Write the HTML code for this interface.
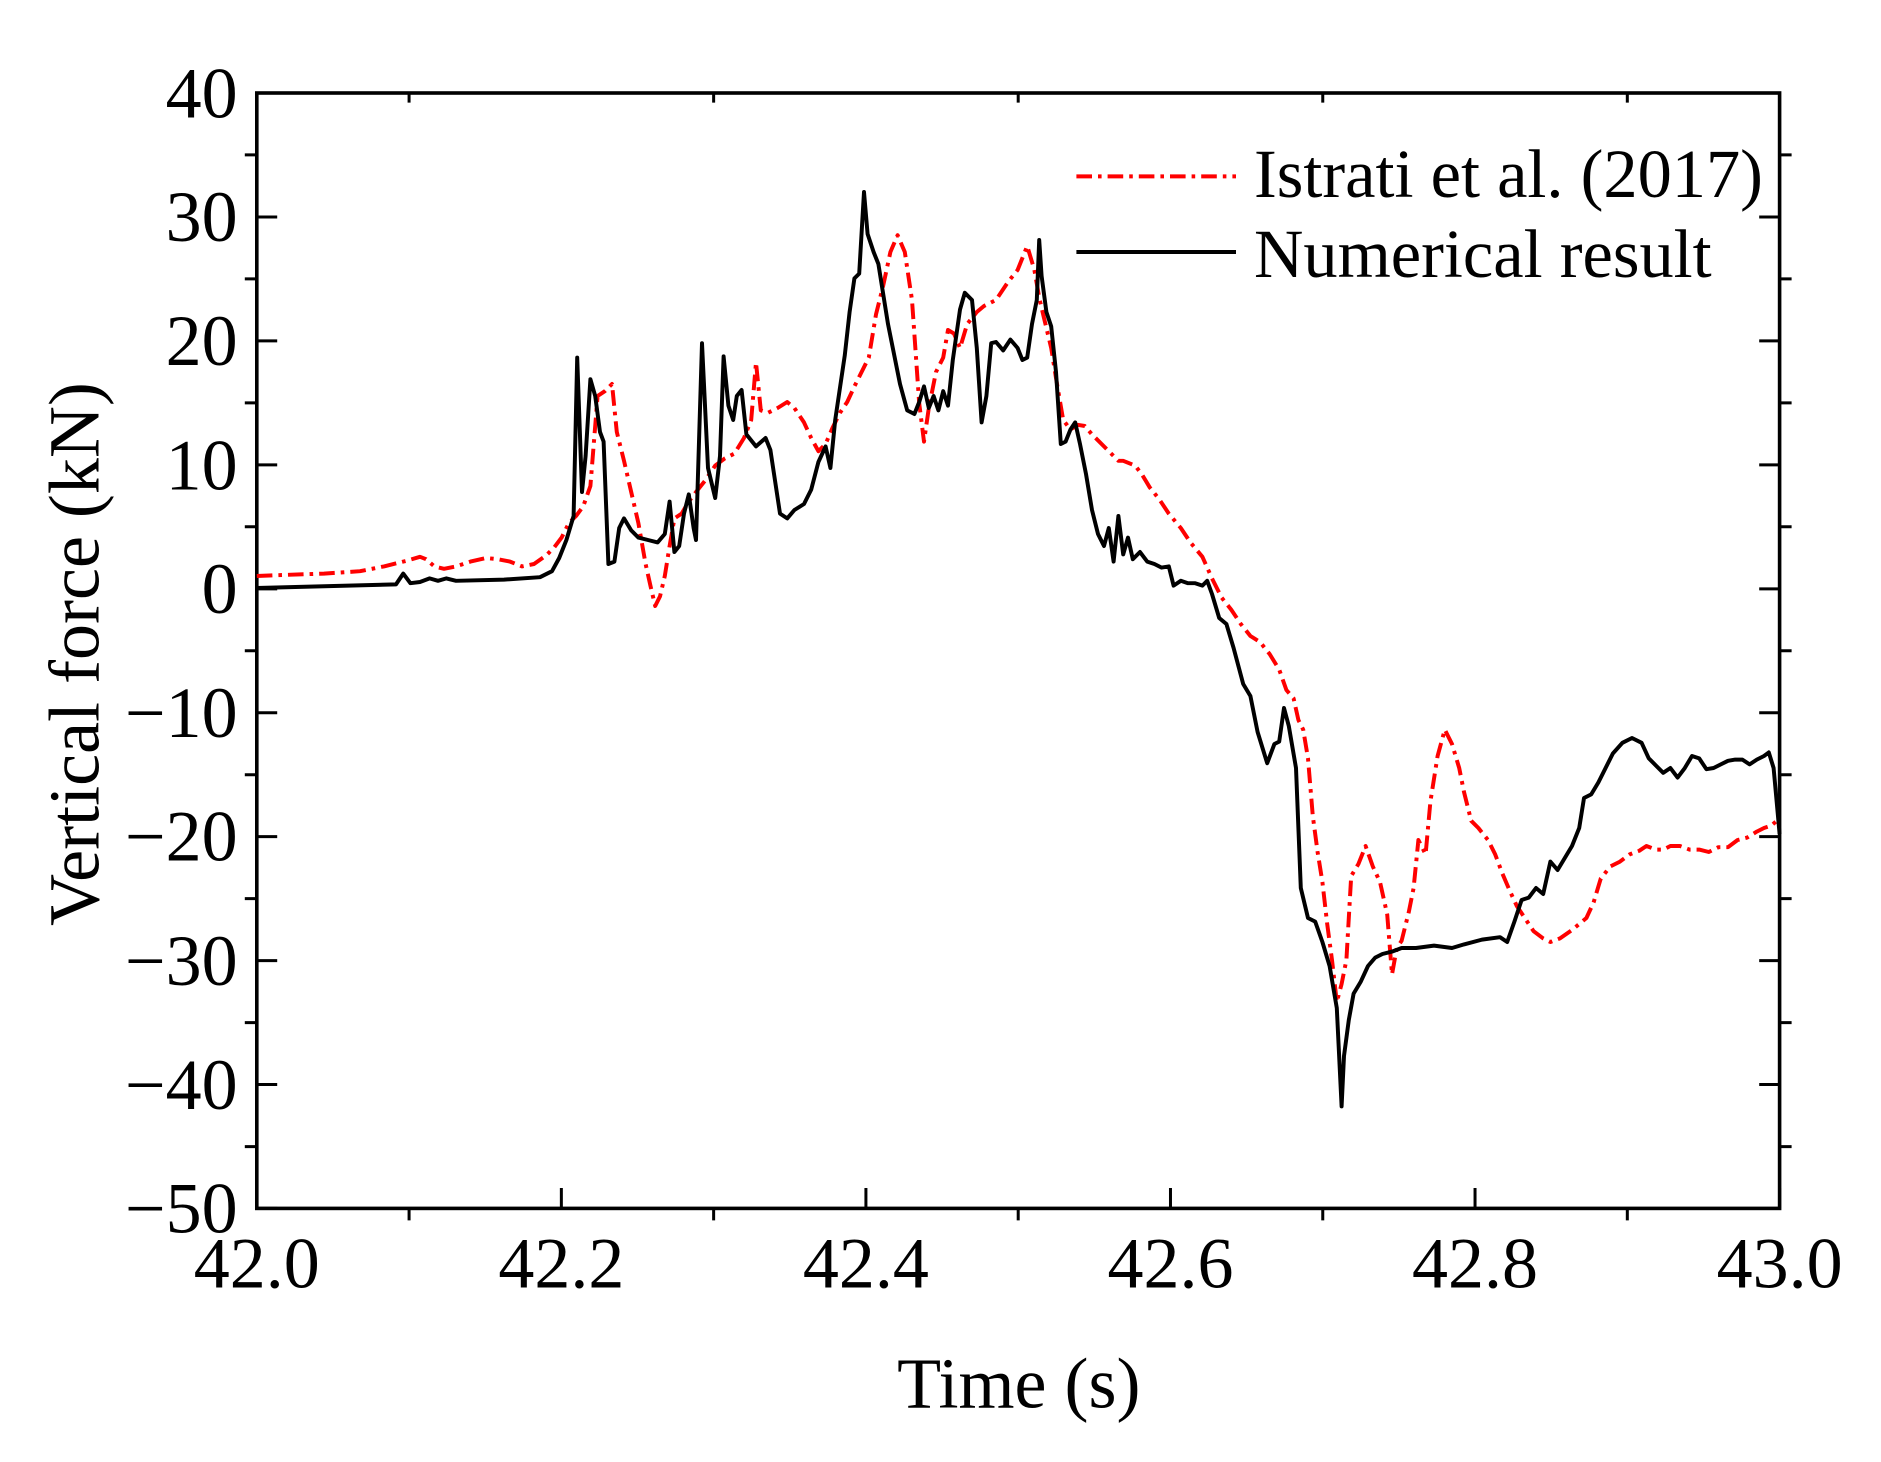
<!DOCTYPE html>
<html><head><style>html,body{margin:0;padding:0;background:#fff}svg{display:block}</style></head>
<body>
<svg width="1881" height="1462" viewBox="0 0 1567.5 1218.33" xmlns="http://www.w3.org/2000/svg" font-family="Liberation Serif, serif">
<rect width="1567.5" height="1218.33" fill="#fff"/>
<g stroke="#000" stroke-width="2.5" fill="none">
<rect x="214" y="77.5" width="1269" height="929.5" stroke-width="3"/>
<path d="M214 1007v-17M467.8 1007v-17M721.6 1007v-17M975.4 1007v-17M1229.2 1007v-17M1483 1007v-17
M340.9 1007v10M594.7 1007v10M848.5 1007v10M1102.3 1007v10M1356.1 1007v10
M340.9 77.5v8M594.7 77.5v8M848.5 77.5v8M1102.3 77.5v8M1356.1 77.5v8"/>
<path d="M214 77.5h17M214 180.8h17M214 284.1h17M214 387.4h17M214 490.7h17M214 594h17M214 697.2h17M214 800.5h17M214 903.8h17M214 1007h17
M1483 180.8h-17M1483 284.1h-17M1483 387.4h-17M1483 490.7h-17M1483 594h-17M1483 697.2h-17M1483 800.5h-17M1483 903.8h-17
M214 129.1h-10M214 232.4h-10M214 335.7h-10M214 439h-10M214 542.3h-10M214 645.6h-10M214 748.9h-10M214 852.2h-10M214 955.5h-10
M1483 129.1h10M1483 232.4h10M1483 335.7h10M1483 439h10M1483 542.3h10M1483 645.6h10M1483 748.9h10M1483 852.2h10M1483 955.5h10"/>
</g>
<g font-size="60" text-anchor="end" fill="#000">
<text x="198" y="98">40</text><text x="198" y="201">30</text><text x="198" y="304">20</text><text x="198" y="408">10</text><text x="198" y="511">0</text>
<text x="198" y="614">−10</text><text x="198" y="717">−20</text><text x="198" y="821">−30</text><text x="198" y="924">−40</text><text x="198" y="1027">−50</text>
</g>
<g font-size="60" text-anchor="middle" fill="#000">
<text x="214" y="1073">42.0</text><text x="467.8" y="1073">42.2</text><text x="721.6" y="1073">42.4</text><text x="975.4" y="1073">42.6</text><text x="1229.2" y="1073">42.8</text><text x="1483" y="1073">43.0</text>
<text x="849" y="1173" font-size="60">Time (s)</text>
<text transform="translate(82,545) rotate(-90)" font-size="60">Vertical force (kN)</text>
</g>
<polyline fill="none" stroke="#f00" stroke-width="3.3" stroke-dasharray="13 5 3 5" stroke-linejoin="round" points="214,480 240,479 270,478 300,476 320,472 340,467 350,464 355,466 362,472 370,474 380,472 392,468 405,465 415,466 425,468 435,472 445,470 455,463 462,456 468,448 474,436 480,430 486,422 492,405 498,330 504,326 510,320 514,360 520,384 526,410 532,436 538,470 542,488 546,505 550,497 554,480 558,455 562,432 568,428 574,418 580,410 588,400 596,388 604,382 612,378 620,365 626,350 630,302 634,342 640,344 648,340 656,335 662,340 670,352 676,365 682,376 688,370 694,356 700,344 706,335 712,322 718,310 724,298 730,262 736,238 742,210 748,196 754,210 760,250 766,336 770,368 774,340 780,310 786,298 790,275 795,278 800,290 806,270 814,260 820,255 830,250 840,235 848,225 856,205 862,225 866,248 870,265 876,290 880,315 886,350 892,358 898,354 904,355 910,362 918,370 926,378 932,384 936,384 946,388 952,396 958,406 966,416 974,428 984,440 992,452 1002,464 1010,482 1018,498 1026,508 1034,520 1042,530 1050,535 1058,545 1066,558 1072,575 1078,582 1082,600 1086,608 1090,632 1094,680 1098,710 1102,735 1106,770 1110,800 1114,835 1118,820 1122,800 1126,730 1132,720 1138,705 1144,722 1150,735 1156,762 1160,812 1164,790 1168,784 1174,760 1178,740 1182,700 1188,712 1192,668 1198,630 1204,608 1210,620 1216,640 1220,660 1226,684 1232,690 1240,700 1246,712 1252,728 1258,742 1264,755 1270,764 1278,776 1286,782 1292,785 1300,782 1310,775 1316,770 1322,765 1328,752 1334,732 1342,722 1350,718 1358,712 1366,709 1372,705 1380,708 1386,708 1392,705 1400,705 1408,708 1416,708 1424,710 1432,706 1440,706 1448,700 1456,698 1464,693 1470,690 1476,688 1483,682"/>
<polyline fill="none" stroke="#000" stroke-width="3.3" stroke-linejoin="round" points="214,490 330,487 336,478 342,486 350,485 358,482 365,484 372,482 380,484 420,483 450,481 460,476 466,465 472,450 478,430 481,298 485,410 488,380 492,316 496,330 500,360 503,368 507,470 512,468 516,440 520,432 526,442 532,448 540,450 548,452 554,445 558,418 562,460 566,455 570,428 574,412 578,440 580,450 585,286 590,390 596,415 600,380 603,297 607,338 611,350 614,330 618,325 622,362 630,372 638,365 642,375 650,428 656,432 662,425 670,420 676,408 682,385 688,372 692,390 696,350 704,296 708,260 712,232 716,228 720,160 723,195 728,210 732,220 736,245 740,270 744,290 750,320 756,342 762,345 766,335 770,322 774,340 778,330 782,342 786,326 790,338 794,300 800,258 804,244 810,250 814,290 818,352 822,330 826,286 830,285 836,292 842,283 848,290 852,300 856,298 860,270 864,250 866,200 868,230 872,260 876,272 880,310 884,370 888,368 892,358 896,352 900,370 905,395 910,425 915,445 920,455 924,440 928,468 932,430 936,462 940,448 944,466 950,460 956,468 962,470 968,473 974,472 978,488 984,484 990,486 996,486 1002,488 1006,484 1010,495 1016,515 1022,520 1028,540 1032,555 1036,570 1042,580 1048,610 1056,636 1062,620 1066,618 1070,590 1074,605 1080,640 1084,740 1090,765 1096,768 1102,785 1108,805 1114,840 1118,922 1120,880 1124,850 1128,828 1134,818 1140,805 1146,798 1152,795 1160,793 1168,790 1180,790 1195,788 1210,790 1220,787 1235,783 1250,781 1256,785 1262,768 1268,750 1274,748 1280,740 1286,745 1292,718 1298,725 1304,715 1310,705 1316,690 1320,665 1326,662 1332,652 1338,640 1344,628 1352,619 1360,615 1368,619 1374,632 1380,638 1386,644 1392,640 1398,648 1404,640 1410,630 1416,632 1422,641 1428,640 1434,637 1440,634 1446,633 1452,633 1458,637 1464,633 1470,630 1474,627 1478,640 1483,695"/>
<line x1="897" y1="147" x2="1030" y2="147" stroke="#f00" stroke-width="3.3" stroke-dasharray="13 5 3 5"/>
<line x1="897" y1="210" x2="1030" y2="210" stroke="#000" stroke-width="3.3"/>
<g font-size="57" fill="#000">
<text x="1045" y="164">Istrati et al. (2017)</text>
<text x="1045" y="231">Numerical result</text>
</g>
</svg>
</body></html>
